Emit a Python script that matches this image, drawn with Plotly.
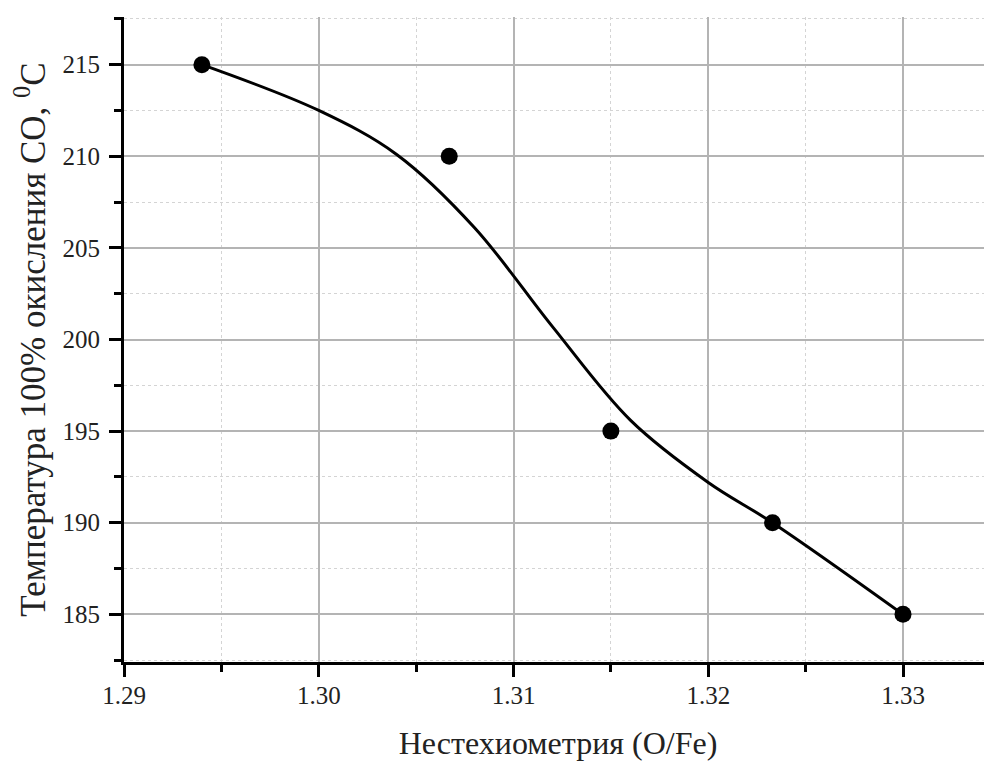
import plotly.graph_objects as go

# Measured points
ox_fe = [1.2940, 1.3067, 1.3150, 1.3233, 1.3300]
temp_c = [215, 210, 195, 190, 185]

# Smoothed curve
curve_x = [1.2940, 1.3000, 1.3040, 1.3080, 1.3120, 1.3160, 1.3200, 1.3233, 1.3300]
curve_y = [215.0, 212.5, 210.1, 206.1, 200.7, 195.6, 192.2, 190.0, 185.0]

x_title = "Нестехиометрия (O/Fe)"
y_title = "Температура 100% окисления CO, <sup>0</sup>C"

FONT = "Liberation Serif, Times New Roman, serif"

fig = go.Figure()
fig.add_trace(go.Scatter(x=curve_x, y=curve_y, mode="lines",
                         line=dict(color="black", width=3, shape="spline", smoothing=1.0),
                         showlegend=False, hoverinfo="skip"))
fig.add_trace(go.Scatter(x=ox_fe, y=temp_c, mode="markers",
                         marker=dict(color="black", size=17),
                         showlegend=False))

axis_common = dict(
    showline=True, linecolor="black", linewidth=3,
    ticks="outside", ticklen=12, tickwidth=2.5, tickcolor="black",
    showgrid=True, gridcolor="#b4b4b4", gridwidth=1.5,
    zeroline=False, mirror=False,
    tickfont=dict(family=FONT, size=25, color="#222"),
)

fig.update_xaxes(
    range=[1.29, 1.33457], tick0=1.29, dtick=0.01, tickformat=".2f",
    minor=dict(tick0=1.29, dtick=0.005, ticks="outside", ticklen=7, tickwidth=2.5,
               tickcolor="black", showgrid=True, gridcolor="#d4d4d4",
               griddash="dot", gridwidth=1),
    title_text=x_title, title_standoff=43, ticklabelstandoff=-3,
    title_font=dict(family=FONT, size=32, color="#222"),
    **axis_common)
fig.update_yaxes(
    range=[182.4, 217.6], tick0=185, dtick=5,
    minor=dict(tick0=182.5, dtick=2.5, ticks="outside", ticklen=7, tickwidth=2.5,
               tickcolor="black", showgrid=True, gridcolor="#d4d4d4",
               griddash="dot", gridwidth=1),
    title_text=y_title, title_standoff=12, ticklabelstandoff=4,
    title_font=dict(family=FONT, size=35, color="#222"),
    **axis_common)

# The page has an 8px body margin, so the figure is 8px smaller on each axis.
fig.update_layout(
    width=984, height=753,
    margin=dict(l=116, r=0, t=9, b=99, autoexpand=False),
    plot_bgcolor="white", paper_bgcolor="white",
    font=dict(family=FONT, color="#222"),
)

fig.write_html("out.html")
